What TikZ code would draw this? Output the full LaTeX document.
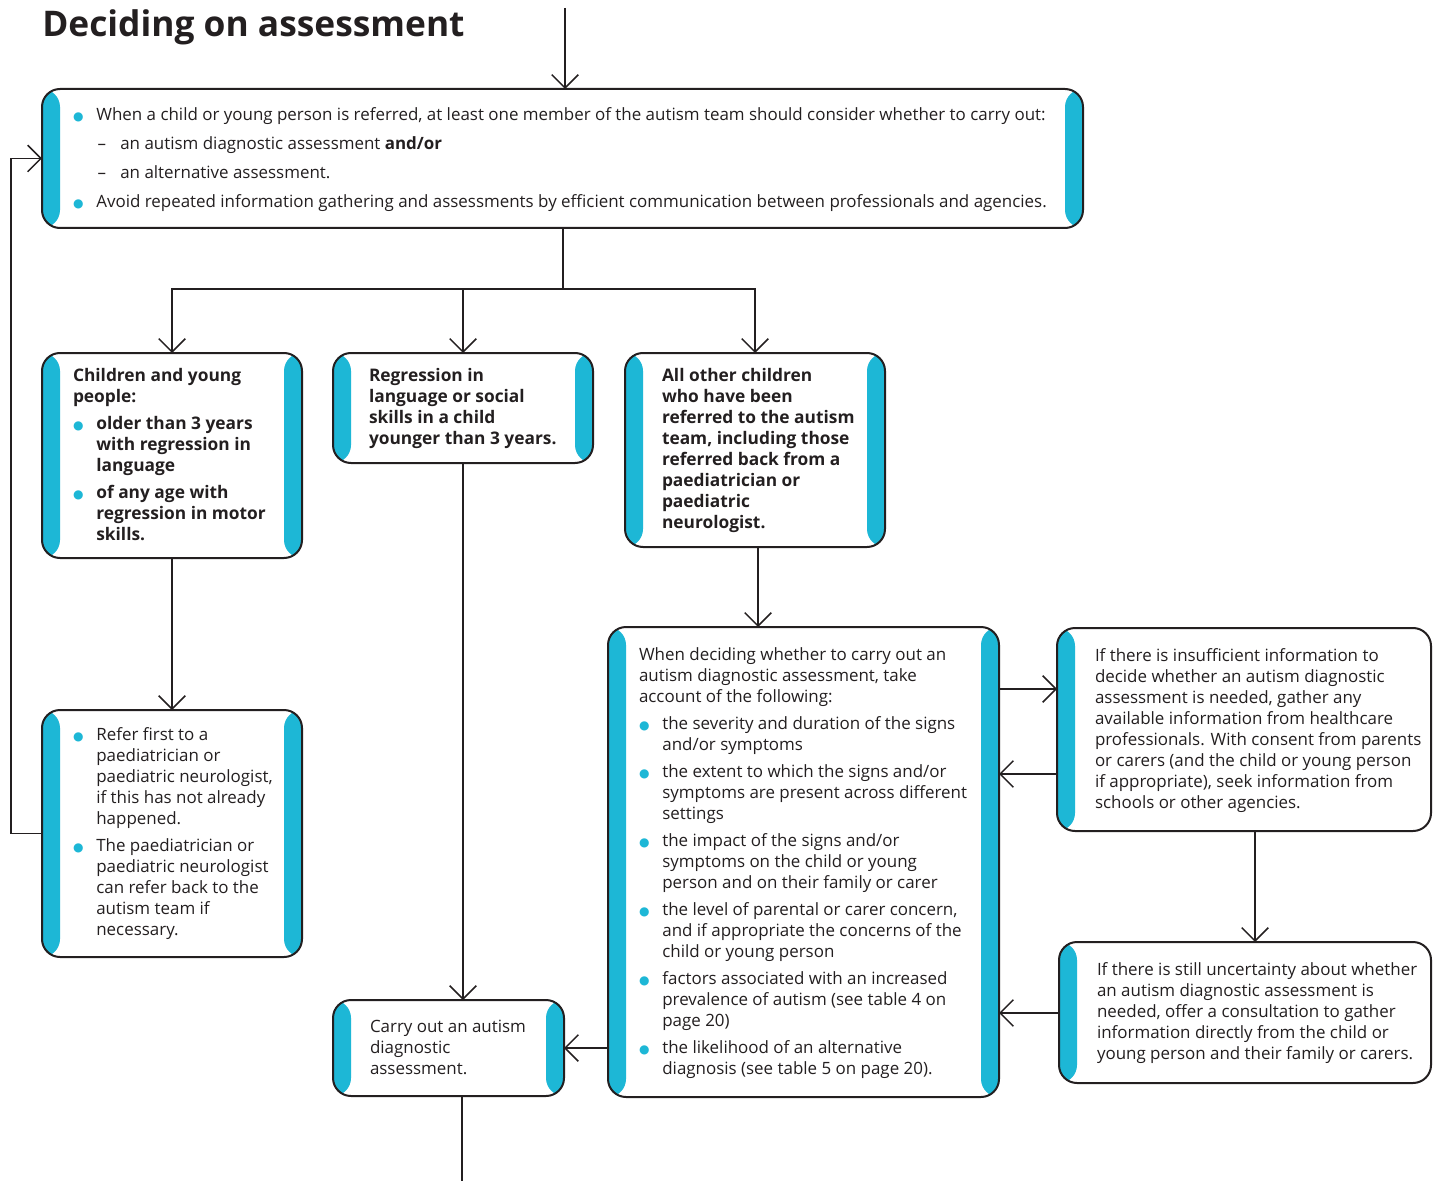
\documentclass[tikz,border=0pt]{standalone}
\usepackage{fontspec}
\setmainfont{Open Sans}
\newfontfamily\dejavu{DejaVu Sans}
\usetikzlibrary{arrows.meta,calc}
\definecolor{bc}{RGB}{29,183,214}
\definecolor{ink}{RGB}{35,31,32}
\newcommand\bul{\makebox[17.5pt][l]{\textcolor{bc}{\dejavu\fontsize{9pt}{9pt}\selectfont ●}}}
\newcommand\ind{\hspace*{17.5pt}}
\newcommand\dsh{\makebox[18pt][l]{\hspace*{1pt}–}}
\newcommand\tst{\rule{0pt}{12pt}}
\newcommand\flowbox[6]{\node[#6, minimum width={(#4-#2)*0.75pt}, minimum height={(#5-#3)*0.75pt}] (#1) at ({(#2+#4)/2},{(#3+#5)/2}) {};}
\tikzset{
  flowbase/.style={draw=ink, line width=1.5pt, rounded corners=13.5pt, inner sep=0pt, outer sep=0pt, fill=white},
  flow/.style={flowbase, path picture={
      \fill[bc] (path picture bounding box.north west) rectangle ($(path picture bounding box.south west)+(18,0)$);
      \fill[bc] (path picture bounding box.north east) rectangle ($(path picture bounding box.south east)+(-18,0)$);}},
  flowL/.style={flowbase, path picture={
      \fill[bc] (path picture bounding box.north west) rectangle ($(path picture bounding box.south west)+(18,0)$);}},
  txt/.style={anchor=north west, inner sep=0pt, outer sep=0pt, align=left, text=ink,
      font=\fontsize{12.7pt}{15.75pt}\selectfont},
  btxt/.style={txt, font=\bfseries\fontsize{13pt}{15.75pt}\selectfont},
  conn/.style={draw=ink, line width=1.1pt},
  arr/.style={conn, -{Straight Barb[length=10pt,width=20pt]}},
}
\begin{document}
\begin{tikzpicture}[x=0.75pt,y=-0.75pt]
\useasboundingbox (0,0) rectangle (1433,1180);

\node[anchor=base west, inner sep=0pt, text=ink, font=\bfseries\fontsize{26.5pt}{30pt}\selectfont] (title) at (42,37) {Deciding on assessment};

% boxes
\flowbox{top}{42}{89}{1083}{228}{flow}
\flowbox{A}{42}{353}{302}{558}{flow}
\flowbox{B}{333}{353}{593}{463}{flow}
\flowbox{C}{625}{353}{885}{547}{flow}
\flowbox{D}{42}{710}{302}{957}{flow}
\flowbox{E}{333}{1000}{564}{1096}{flow}
\flowbox{F}{608}{627}{999}{1097}{flow}
\flowbox{G}{1057}{628}{1431}{831}{flowL}
\flowbox{H}{1059}{942}{1431}{1083}{flowL}

% texts
\node[txt, font=\fontsize{12.7pt}{21.75pt}\selectfont] (topt) at (73,105) {\tst\bul When a child or young person is referred, at least one member of the autism team should consider whether to carry out:\\
\ind\dsh an autism diagnostic assessment \textbf{and/or}\\
\ind\dsh an alternative assessment.\\
\bul Avoid repeated information gathering and assessments by efficient communication between professionals and agencies.};

\node[btxt] (At) at (73,365) {\tst Children and young\\people:\\[4.5pt]
\bul older than 3 years\\\ind with regression in\\\ind language\\[4.5pt]
\bul of any age with\\\ind regression in motor\\\ind skills.};

\node[btxt] (Bt) at (369,365) {\tst Regression in\\language or social\\skills in a child\\younger than 3 years.};

\node[btxt] (Ct) at (662,365) {\tst All other children\\who have been\\referred to the autism\\team, including those\\referred back from a\\paediatrician or\\paediatric\\neurologist.};

\node[txt] (Dt) at (73,724) {\tst\bul Refer first to a\\\ind paediatrician or\\\ind paediatric neurologist,\\\ind if this has not already\\\ind happened.\\[4.5pt]
\bul The paediatrician or\\\ind paediatric neurologist\\\ind can refer back to the\\\ind autism team if\\\ind necessary.};

\node[txt] (Et) at (370,1016) {\tst Carry out an autism\\diagnostic\\assessment.};

\node[txt] (Ft) at (639,644) {\tst When deciding whether to carry out an\\autism diagnostic assessment, take\\account of the following:\\[4.5pt]
\bul the severity and duration of the signs\\\ind and/or symptoms\\[4.5pt]
\bul the extent to which the signs and/or\\\ind symptoms are present across different\\\ind settings\\[4.5pt]
\bul the impact of the signs and/or\\\ind symptoms on the child or young\\\ind person and on their family or carer\\[4.5pt]
\bul the level of parental or carer concern,\\\ind and if appropriate the concerns of the\\\ind child or young person\\[4.5pt]
\bul factors associated with an increased\\\ind prevalence of autism (see table 4 on\\\ind page 20)\\[4.5pt]
\bul the likelihood of an alternative\\\ind diagnosis (see table 5 on page 20).};

\node[txt] (Gt) at (1095,645) {\tst If there is insufficient information to\\decide whether an autism diagnostic\\assessment is needed, gather any\\available information from healthcare\\professionals. With consent from parents\\or carers (and the child or young person\\if appropriate), seek information from\\schools or other agencies.};

\node[txt] (Ht) at (1097,959) {\tst If there is still uncertainty about whether\\an autism diagnostic assessment is\\needed, offer a consultation to gather\\information directly from the child or\\young person and their family or carers.};

% connectors
\coordinate (src) at (565,8);
\coordinate (split) at (563,289);
\coordinate (sink) at (462,1185);
\draw[arr] (src) -- (src |- top.north);
\draw[conn] (split |- top.south) -- (split);
\draw[arr] (split) -| (A.north);
\draw[arr] (split) -| (B.north);
\draw[arr] (split) -| (C.north);
\draw[arr] (A.south) -- (D.north);
\draw[arr] (D.west) -- ++(-31,0) |- (top.west);
\draw[arr] (B.south) -- (B.south |- E.north);
\draw[conn] (sink |- E.south) -- (sink);
\draw[arr] ($(C.south)+(3,0)$) -- ($(C.south |- F.north)+(3,0)$);
\draw[arr] (F.west |- E.east) -- (E.east);
\draw[arr] (F.east |- 0,689) -- (G.west |- 0,689);
\draw[arr] (G.west |- 0,774) -- (F.east |- 0,774);
\draw[arr] ($(G.south)+(11,0)$) -- ($(G.south |- H.north)+(11,0)$);
\draw[arr] (H.west |- 0,1013) -- (F.east |- 0,1013);
\end{tikzpicture}
\end{document}
